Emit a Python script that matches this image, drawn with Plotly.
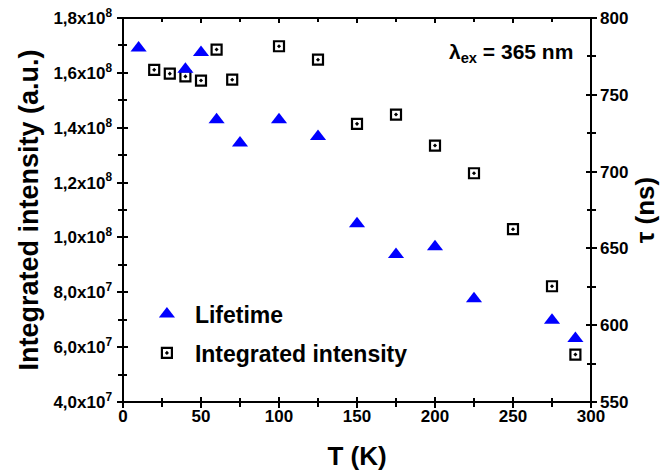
import plotly.graph_objects as go

# Lifetime (tau, ns) vs T (K) -- right axis
T_life = [10, 40, 50, 60, 75, 100, 125, 150, 175, 200, 225, 275, 290]
tau_life = [780.5, 766.7, 777.5, 733.8, 718.6, 733.8, 722.9, 666, 646, 651, 617.3, 603.2, 591.4]

# Integrated intensity (a.u.) vs T (K) -- left axis
T_int = [20, 30, 40, 50, 60, 70, 100, 125, 150, 175, 200, 225, 250, 275, 290]
I_int = [1.611e8, 1.597e8, 1.587e8, 1.572e8, 1.685e8, 1.575e8, 1.697e8, 1.648e8,
         1.414e8, 1.448e8, 1.335e8, 1.234e8, 1.03e8, 8.22e7, 5.73e7]

left_tickvals = [4e7, 6e7, 8e7, 1e8, 1.2e8, 1.4e8, 1.6e8, 1.8e8]
left_ticktext = ["4,0x10<sup>7</sup>", "6,0x10<sup>7</sup>", "8,0x10<sup>7</sup>",
                 "1,0x10<sup>8</sup>", "1,2x10<sup>8</sup>", "1,4x10<sup>8</sup>",
                 "1,6x10<sup>8</sup>", "1,8x10<sup>8</sup>"]
x_range = [0, 300]
left_range = [4e7, 1.8e8]
right_range = [550, 800]

FONT = "Liberation Sans"
tickfont = dict(family=FONT, size=17, color="black", weight="bold")

fig = go.Figure()
fig.add_trace(go.Scatter(
    x=T_life, y=tau_life, mode="markers", name="Lifetime", yaxis="y2", legendgroup="a",
    marker=dict(symbol="triangle-up", size=14, color="#0000FF", line=dict(width=0)),
))
fig.add_trace(go.Scatter(
    x=T_int, y=I_int, mode="markers", name="Integrated intensity", yaxis="y", legendgroup="b",
    marker=dict(symbol="square-open-dot", size=10, color="black", line=dict(width=2.2, color="black")),
))

base_ax = dict(showline=False, showgrid=False, zeroline=False,
               tickcolor="black", tickwidth=2, ticklen=5, automargin=False)
minor_in = dict(ticks="inside", ticklen=4, tickwidth=2, tickcolor="black")
minor_out = dict(ticks="outside", ticklen=4, tickwidth=2, tickcolor="black")

fig.update_layout(
    width=667, height=476,
    margin=dict(l=123, r=76, t=18, b=74),
    plot_bgcolor="rgba(0,0,0,0)", paper_bgcolor="white",
    font=dict(family=FONT, color="black"),
    xaxis=dict(range=x_range, tickmode="linear", tick0=0, dtick=50, ticks="inside", mirror="ticks",
               minor=dict(dtick=25, **minor_in),
               tickfont=tickfont, ticklabelstandoff=2,
               title=dict(text="T (K)", font=dict(family=FONT, size=26, color="black", weight="bold"), standoff=21),
               **base_ax),
    xaxis3=dict(range=x_range, overlaying="x", anchor="y", side="bottom",
                tickmode="linear", tick0=0, dtick=50, ticks="outside", showticklabels=False,
                minor=dict(dtick=25, **minor_out), **base_ax),
    yaxis=dict(range=left_range, tickmode="array", tickvals=left_tickvals, ticktext=left_ticktext,
               ticks="inside", minor=dict(dtick=1e7, tick0=4e7, **minor_in),
               tickfont=tickfont, ticklabelstandoff=10,
               title=dict(text="Integrated intensity (a.u.)", font=dict(family=FONT, size=27, color="black", weight="bold"), standoff=6),
               **base_ax),
    yaxis3=dict(range=left_range, overlaying="y", anchor="x", side="left",
                tickmode="array", tickvals=left_tickvals, ticks="outside", showticklabels=False,
                minor=dict(dtick=1e7, tick0=4e7, **minor_out), **base_ax),
    yaxis2=dict(range=right_range, overlaying="y", side="right", anchor="x", tickmode="linear", tick0=550, dtick=50,
                ticks="inside", minor=dict(dtick=25, **minor_in),
                tickfont=tickfont, ticklabelstandoff=8,
                title=dict(text="τ (ns)", font=dict(family=FONT, size=26, color="black", weight="bold"), standoff=8),
                **base_ax),
    yaxis4=dict(range=right_range, overlaying="y", side="right", anchor="x", tickmode="linear",
                tick0=550, dtick=50, ticks="outside", showticklabels=False,
                minor=dict(dtick=25, **minor_out), **base_ax),
    legend=dict(x=0.034, y=0.285, xanchor="left", yanchor="top", bgcolor="rgba(0,0,0,0)",
                itemwidth=46, tracegroupgap=6,
                font=dict(family=FONT, size=23, color="black", weight="bold")),
    showlegend=True,
    shapes=[dict(type="rect", xref="paper", yref="paper", x0=0, x1=1, y0=0, y1=1,
                 line=dict(color="black", width=2), fillcolor="rgba(0,0,0,0)", layer="above")],
    annotations=[dict(text="λ<sub>ex</sub> = 365 nm", xref="paper", yref="paper", x=0.966, y=0.91,
                      xanchor="right", yanchor="middle", showarrow=False,
                      font=dict(family=FONT, size=21, color="black", weight="bold"))],
)

# invisible traces that activate the overlay tick axes
fig.add_trace(go.Scatter(x=[None], y=[None], xaxis="x3", yaxis="y3", showlegend=False, hoverinfo="skip"))
fig.add_trace(go.Scatter(x=[None], y=[None], xaxis="x", yaxis="y4", showlegend=False, hoverinfo="skip"))

fig.write_html("out.html", config={"displayModeBar": False})
with open("out.html", "r", encoding="utf-8") as f:
    html = f.read()
html = html.replace("<body>", '<body style="margin:0;padding:0;">', 1)
with open("out.html", "w", encoding="utf-8") as f:
    f.write(html)
